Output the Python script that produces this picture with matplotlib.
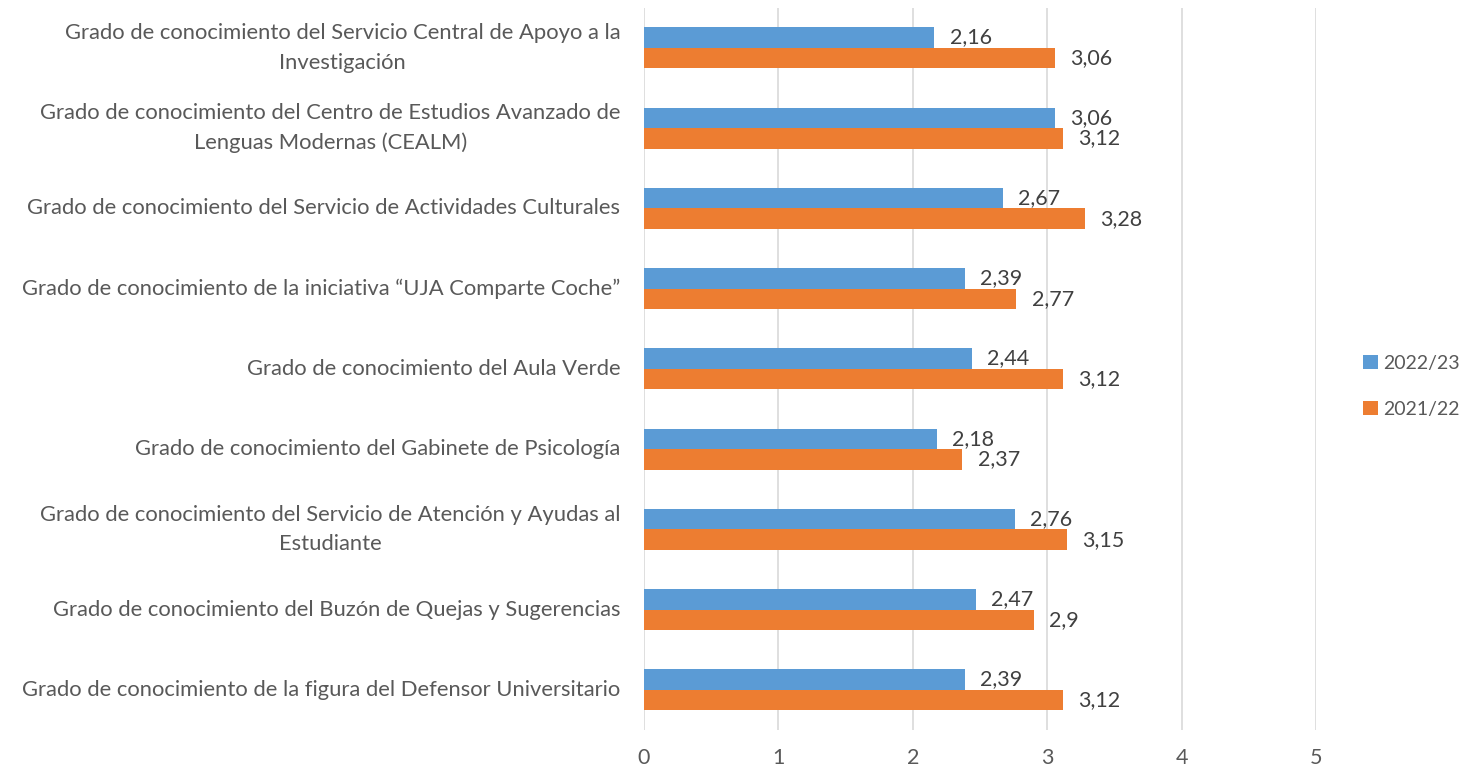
import matplotlib.pyplot as plt
import numpy as np

plt.rcParams['font.family'] = ['Lato', 'DejaVu Sans']

categorias = [
    'Grado de conocimiento del Servicio Central de Apoyo a la\nInvestigación',
    'Grado de conocimiento del Centro de Estudios Avanzado de\nLenguas Modernas (CEALM)',
    'Grado de conocimiento del Servicio de Actividades Culturales',
    'Grado de conocimiento de la iniciativa \u201cUJA Comparte Coche\u201d',
    'Grado de conocimiento del Aula Verde',
    'Grado de conocimiento del Gabinete de Psicología',
    'Grado de conocimiento del Servicio de Atención y Ayudas al\nEstudiante',
    'Grado de conocimiento del Buzón de Quejas y Sugerencias',
    'Grado de conocimiento de la figura del Defensor Universitario',
]
curso_2022_23 = [2.16, 3.06, 2.67, 2.39, 2.44, 2.18, 2.76, 2.47, 2.39]
curso_2021_22 = [3.06, 3.12, 3.28, 2.77, 3.12, 2.37, 3.15, 2.9, 3.12]

azul = '#5B9BD5'
naranja = '#ED7D31'
gris = '#595959'

fig = plt.figure(figsize=(14.67, 7.7), dpi=100)
ax = fig.add_axes([0.439, 0.052, 0.458, 0.938])

y = np.arange(len(categorias))
alto = 0.256

b1 = ax.barh(y - alto / 2, curso_2022_23, height=alto, color=azul, label='2022/23', zorder=3)
b2 = ax.barh(y + alto / 2, curso_2021_22, height=alto, color=naranja, label='2021/22', zorder=3)

# etiquetas de valor con coma decimal
for barras, valores in ((b1, curso_2022_23), (b2, curso_2021_22)):
    for barra, v in zip(barras, valores):
        ax.annotate(f'{v:g}'.replace('.', ','),
                    (v, barra.get_y() + barra.get_height() / 2),
                    xytext=(11, 0), textcoords='offset points',
                    ha='left', va='center', fontsize=15.5, color='#404040')

ax.set_xlim(0, 5)
ax.set_ylim(len(categorias) - 0.5, -0.5)
ax.set_xticks(range(6))
ax.set_yticks(y)
ax.set_yticklabels(categorias, fontsize=15.8, color=gris, linespacing=1.6)
for lab in ax.get_yticklabels():
    lab.set_multialignment('center')
    lab.set_verticalalignment('center')

ax.tick_params(axis='x', labelsize=15.5, colors=gris, length=0, pad=13)
ax.tick_params(axis='y', length=0, pad=17)
ax.grid(axis='x', color='#D9D9D9', linewidth=1.2, zorder=0)
for s in ax.spines.values():
    s.set_visible(False)

ax.legend(loc='center left', bbox_to_anchor=(1.047, 0.476), frameon=False,
          fontsize=14, labelcolor=gris, handlelength=0.75, handleheight=0.75,
          handletextpad=0.3, labelspacing=1.5, borderpad=0.3)

fig.savefig('out.png', dpi=100)
